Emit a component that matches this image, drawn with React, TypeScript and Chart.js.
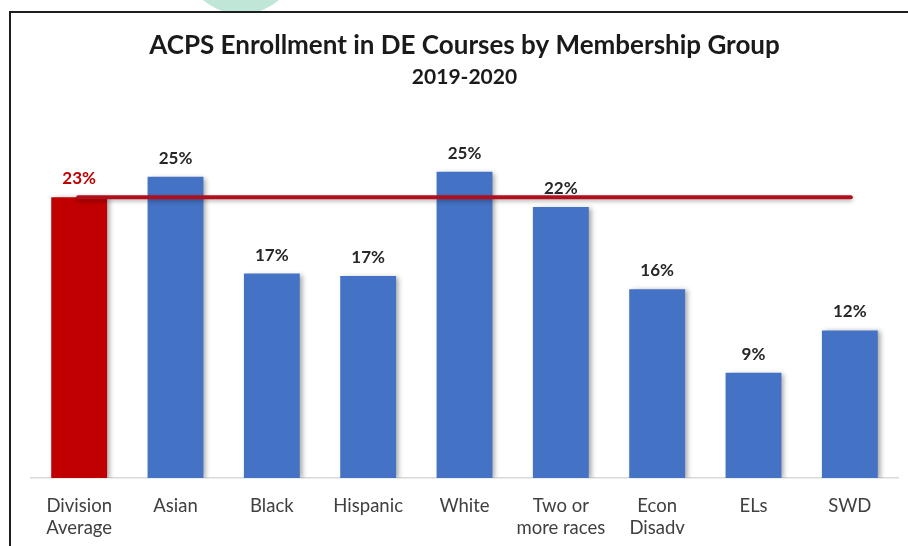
import React, { useEffect, useRef } from "react";
import { Chart, registerables } from "chart.js";

Chart.register(...registerables);

const categories: (string | string[])[] = [
  ["Division", "Average"],
  "Asian",
  "Black",
  "Hispanic",
  "White",
  ["Two or", "more races"],
  ["Econ", "Disadv"],
  "ELs",
  "SWD",
];
const enrollmentPct = [23.2, 24.9, 16.9, 16.7, 25.3, 22.4, 15.6, 8.7, 12.2];
const divisionAverage = 23.2;
const titleText = "ACPS Enrollment in DE Courses by Membership Group";
const subtitleText = "2019-2020";

const RED = "#c00000";
const BLUE = "#4472c4";
const LINE_RED = "#b20f1c";

const overlayPlugin = {
  id: "overlay",
  beforeDatasetsDraw(chart: any) {
    const ctx = chart.ctx;
    ctx.save();
    ctx.shadowColor = "rgba(0,0,0,0.35)";
    ctx.shadowBlur = 5;
    ctx.shadowOffsetX = 3;
    ctx.shadowOffsetY = 1;
  },
  afterDatasetsDraw(chart: any) {
    const ctx = chart.ctx;
    ctx.restore();
    const meta = chart.getDatasetMeta(0);
    const x = chart.scales.x;
    const y = chart.scales.y;
    // division average line
    const yy = y.getPixelForValue(divisionAverage);
    ctx.save();
    ctx.shadowColor = "rgba(0,0,0,0.3)";
    ctx.shadowBlur = 4;
    ctx.shadowOffsetY = 2;
    ctx.strokeStyle = LINE_RED;
    ctx.lineWidth = 4;
    ctx.lineCap = "round";
    ctx.beginPath();
    ctx.moveTo(x.getPixelForValue(0) - 1, yy);
    ctx.lineTo(x.getPixelForValue(categories.length - 1) + 1, yy);
    ctx.stroke();
    ctx.restore();
    // value labels
    ctx.save();
    ctx.font = "bold 17px Lato";
    ctx.textAlign = "center";
    ctx.textBaseline = "alphabetic";
    meta.data.forEach((bar: any, i: number) => {
      ctx.fillStyle = i === 0 ? RED : "#262626";
      ctx.fillText(Math.round(enrollmentPct[i]) + "%", bar.x, bar.y - 13);
    });
    ctx.restore();
  },
};

export default function App() {
  const ref = useRef<HTMLCanvasElement | null>(null);
  useEffect(() => {
    if (!ref.current) return;
    const chart = new Chart(ref.current, {
      type: "bar",
      data: {
        labels: categories,
        datasets: [
          {
            data: enrollmentPct,
            backgroundColor: (c: any) => (c.dataIndex === 0 ? RED : BLUE),
            barPercentage: 0.58,
            categoryPercentage: 1,
            borderWidth: 0,
          },
        ],
      },
      options: {
        animation: false,
        responsive: false,
        devicePixelRatio: 1,
        layout: { padding: { left: 31, right: 10, top: 0, bottom: 0 } },
        plugins: {
          legend: { display: false },
          tooltip: { enabled: false },
          title: {
            display: true,
            text: titleText,
            fullSize: false,
            color: "#1a1a1a",
            font: { family: "Lato", size: 26, weight: "bold", lineHeight: 1.2 },
            padding: { top: 30.4, bottom: 0 },
          },
          subtitle: {
            display: true,
            text: subtitleText,
            fullSize: false,
            color: "#1a1a1a",
            font: { family: "Lato", size: 21, weight: "bold", lineHeight: 1.2 },
            padding: { top: 2.8, bottom: 25.4 },
          },
        },
        scales: {
          x: {
            grid: { display: false, drawTicks: false },
            border: { display: true, color: "#d9d9d9", width: 1.5 },
            ticks: {
              color: "#404040",
              font: { family: "Lato", size: 18.5, lineHeight: 1.2 },
              padding: 17,
              maxRotation: 0,
              autoSkip: false,
            },
            afterFit: (s: any) => {
              s.height = 546 - 478;
            },
          },
          y: {
            display: false,
            min: 0,
            max: 30,
          },
        },
      },
      plugins: [overlayPlugin],
    });
    return () => chart.destroy();
  }, []);

  return (
    <div
      style={{
        position: "fixed",
        left: 0,
        top: 0,
        width: 908,
        height: 546,
        background: "#fff",
        overflow: "hidden",
      }}
    >
      <div
        style={{
          position: "absolute",
          left: 183,
          top: -100,
          width: 116,
          height: 114,
          borderRadius: "50%",
          background: "#bfe6d7",
        }}
      />
      <div
        style={{
          position: "absolute",
          left: 9,
          top: 11,
          width: 920,
          height: 560,
          borderTop: "2px solid #1e1e1e",
          borderLeft: "2px solid #1e1e1e",
          background: "#fff",
        }}
      />
      <canvas
        ref={ref}
        width={908}
        height={546}
        style={{ position: "absolute", left: 0, top: 0, width: 908, height: 546 }}
      />
    </div>
  );
}
